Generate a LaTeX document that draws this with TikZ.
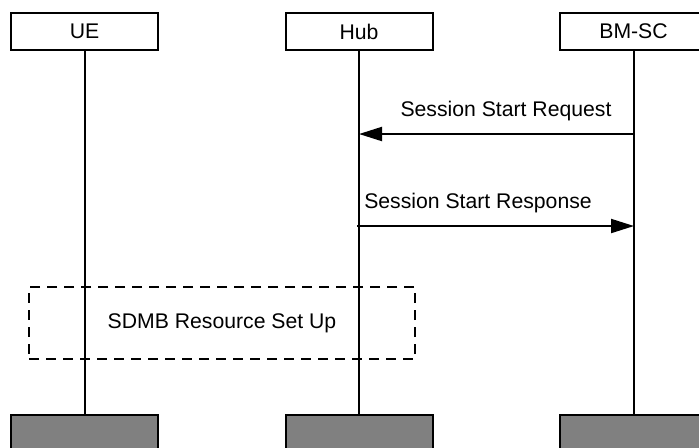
\documentclass[tikz,border=0pt]{standalone}
\usepackage{fontspec}
\setmainfont{Liberation Sans}
\usetikzlibrary{arrows.meta}
\tikzset{
  lbl/.style={font=\fontsize{10.6}{12}\selectfont, inner sep=0pt},
  entity/.style={draw, line width=1pt, minimum width=73.5pt, minimum height=18.5pt, inner sep=0pt, font=\fontsize{10.6}{12}\selectfont},
  endbox/.style={entity, fill=black!50},
  life/.style={line width=1pt},
  msg/.style={line width=1pt, -{Triangle[length=11.5pt,width=7pt]}},
  dashbox/.style={draw, line width=1pt, dash pattern=on 5pt off 3.5pt, minimum width=193pt, minimum height=36pt, inner sep=0pt, font=\fontsize{10.6}{12}\selectfont}
}
\begin{document}
\begin{tikzpicture}[x=0.5pt,y=-0.5pt]
\useasboundingbox (0,0) rectangle (699,447);
\clip (0,0) rectangle (699,447);
% entities
\node[entity] (ue) at (84.5,31.5) {UE};
\node[entity] (hub) at (359,31.5) {Hub};
\node[entity] (bmsc) at (633.5,31.5) {BM-SC};
\node[endbox] (ueend) at (84.5,433.5) {};
\node[endbox] (hubend) at (359,433.5) {};
\node[endbox] (bmscend) at (633.5,433.5) {};
% lifelines
\draw[life] (ue.south) -- (ueend.north);
\draw[life] (hub.south) -- (hubend.north);
\draw[life] (bmsc.south) -- (bmscend.north);
% messages
\coordinate (reqS) at (634,134);
\coordinate (reqE) at (359,134);
\draw[msg] (reqS) -- (reqE);
\node[lbl] (reqL) at (506,111) {Session Start Request};
\coordinate (resS) at (357,226);
\coordinate (resE) at (634,226);
\draw[msg] (resS) -- (resE);
\node[lbl] (resL) at (478,203) {Session Start Response};
% procedure box
\node[dashbox] (sdmb) at (222,323) {SDMB Resource Set Up};
\end{tikzpicture}
\end{document}
